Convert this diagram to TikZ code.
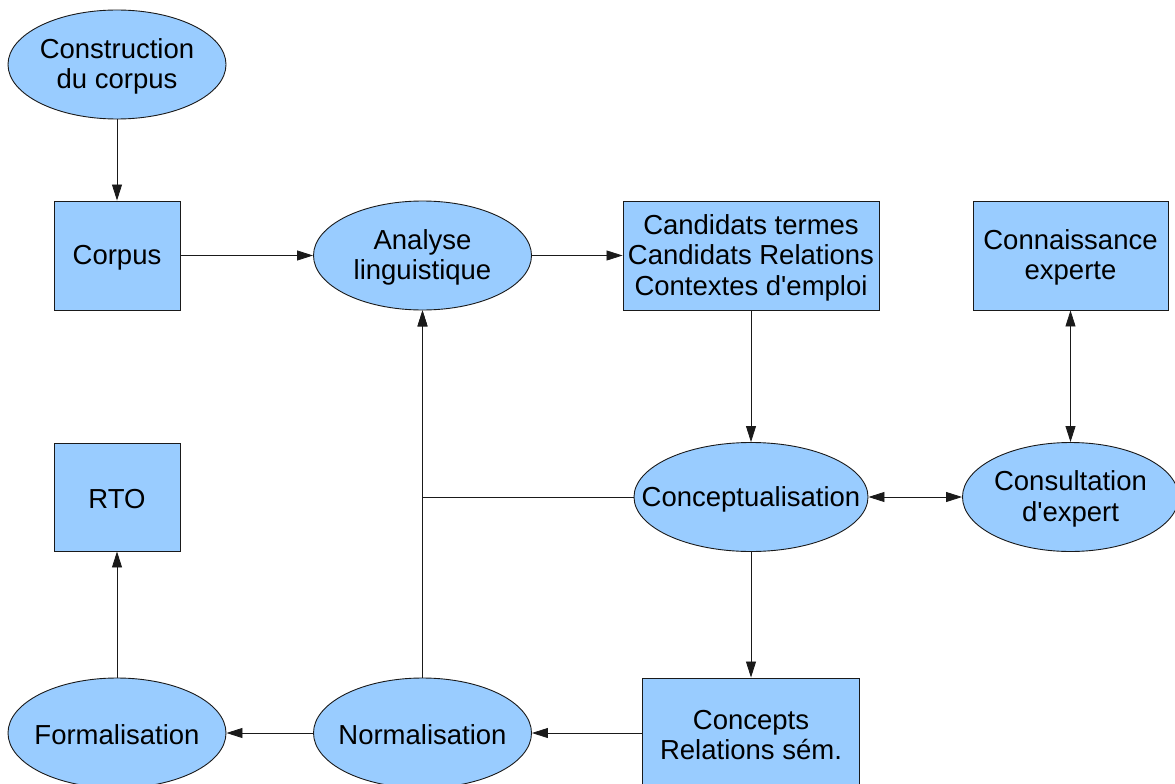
\documentclass[tikz,border=0pt]{standalone}
\usepackage{fontspec}
\setmainfont{Liberation Sans}[Ligatures=TeXOff]
\usetikzlibrary{shapes.geometric,arrows.meta}
\definecolor{boxblue}{HTML}{99CCFF}
\definecolor{edge}{HTML}{1A1A1A}
\tikzset{
  every node/.style={font=\fontsize{27.5}{30.5}\selectfont},
  procbox/.style={draw=edge, line width=0.9pt, fill=boxblue, rectangle,
    inner sep=0pt, minimum height=109pt},
  procell/.style={draw=edge, line width=0.9pt, fill=boxblue, ellipse,
    inner sep=0pt, minimum width=218pt, minimum height=109pt},
  txt/.style={align=center, inner sep=0pt, yshift=-2pt},
  arr/.style={draw=edge, line width=0.8pt, -{Triangle[length=16pt,width=10pt]}},
  darr/.style={draw=edge, line width=0.8pt, {Triangle[length=16pt,width=10pt]}-{Triangle[length=16pt,width=10pt]}},
}
\begin{document}
\begin{tikzpicture}[x=1pt,y=-1pt]
\useasboundingbox (0,0) rectangle (1175,784);

% processes (ellipses) and products (boxes), labels set on top
\node[procell] (constr) at (117,64.5) {};
\node[txt] at (constr.center) {Construction\\du corpus};

\node[procbox, minimum width=126pt] (corpus) at (117,255.5) {};
\node[txt] at (corpus.center) {Corpus};

\node[procell] (analyse) at (422.5,255.5) {};
\node[txt] at (analyse.center) {Analyse\\linguistique};

\node[procbox, minimum width=256pt] (cand) at (751,255.5) {};
\node[txt] at (cand.center) {Candidats termes\\Candidats Relations\\Contextes d'emploi};

\node[procbox, minimum width=195pt] (conn) at (1070.5,255.5) {};
\node[txt] at (conn.center) {Connaissance\\experte};

\node[procbox, minimum width=126pt, minimum height=108pt] (rto) at (117,497) {};
\node[txt] at (rto.center) {RTO};

\node[procell, minimum width=234pt] (concept) at (751,497) {};
\node[txt] at (concept.center) {Conceptualisation};

\node[procell, minimum width=216pt] (consult) at (1070.5,497) {};
\node[txt] at (consult.center) {Consultation\\d'expert};

\node[procell, minimum height=110pt] (formal) at (117,733) {};
\node[txt] at (formal.center) {Formalisation};

\node[procell, minimum height=110pt] (norm) at (422.5,733) {};
\node[txt] at (norm.center) {Normalisation};

\node[procbox, minimum width=217pt, minimum height=110pt] (concepts) at (751,733) {};
\node[txt] at (concepts.center) {Concepts\\Relations sém.};

% connectors
\draw[arr] (constr.south) -- (corpus.north);
\draw[arr] (corpus.east) -- (analyse.west);
\draw[arr] (analyse.east) -- (cand.west);
\draw[arr] (cand.south) -- (concept.north);
\draw[darr] (conn.south) -- (consult.north);
\draw[darr] (concept.east) -- (consult.west);
\draw[arr] (concept.west) -| (analyse.south);
\draw[arr] (norm.north) -- (analyse.south);
\draw[arr] (concept.south) -- (concepts.north);
\draw[arr] (concepts.west) -- (norm.east);
\draw[arr] (norm.west) -- (formal.east);
\draw[arr] (formal.north) -- (rto.south);
\end{tikzpicture}
\end{document}
